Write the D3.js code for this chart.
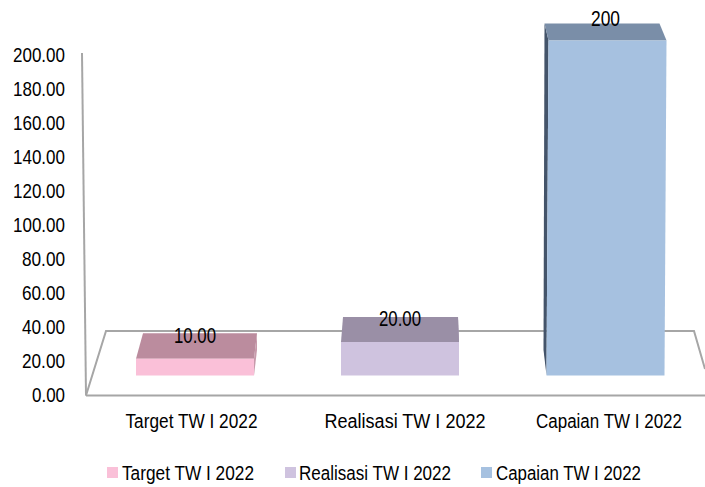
<!DOCTYPE html>
<html><head><meta charset="utf-8">
<script src="https://cdn.jsdelivr.net/npm/d3@7"></script>
<style>html,body{margin:0;padding:0;background:#fff}svg{display:block}text{font-family:"Liberation Sans",Arial,sans-serif;fill:#000}</style>
</head><body><svg id="c" width="705" height="487"></svg>
<script>
const categories = ["Target TW I 2022","Realisasi TW I 2022","Capaian TW I 2022"];
const values = [10,20,200];
const valueLabels = ["10.00","20.00","200"];
const colors = ["#fac0d8","#cfc3df","#a6c1e0"];
const topColors = ["#bb8c9e","#9a8fa6","#7a8ea8"];
const sideColors = ["#c79aab","#a79bb4","#44546a"];
const ticks = d3.range(0,201,20);

const svg = d3.select("#c");
const y = d3.scaleLinear().domain([0,200]).range([395,55]);
const yBar = d3.scaleLinear().domain([0,200]).range([375.5,40.5]);
const center = {[categories[0]]:195,[categories[1]]:400,[categories[2]]:605.5};
const barW = 118;

const wall = "#a6a6a6";
const line = d3.line();
const frame = [[[82,53],[86,395.5]],[[86,395.5],[705,395.5]],[[86,395.5],[106,331],[694,331],[705,369]]];
svg.append("g").selectAll("path").data(frame).join("path")
  .attr("d",d=>line(d)).attr("fill","none").attr("stroke",wall).attr("stroke-width",2);

const ax = d3.axisLeft(y).tickValues(ticks).tickSize(0).tickFormat(d3.format(".2f"));
const gy = svg.append("g").attr("transform","translate(70,-1)").call(ax);
gy.select(".domain").remove();
gy.selectAll("text").attr("font-size",20).attr("dy","0.36em").attr("x",-5).attr("font-family",'"Liberation Sans"')
  .attr("textLength",d=>d>=100?52:d>0?43:33).attr("lengthAdjust","spacingAndGlyphs");

const skew = [[7,3],[2,-1],[-2,-5]];
const depth = [25.5,25,17];
const lean = [0,0,2];
const bars = svg.append("g").selectAll("g").data(categories).join("g");
bars.each(function(c,i){
  const g = d3.select(this), cx = center[c];
  const l = cx-barW/2, r = cx+barW/2, b = yBar(0), t = yBar(values[i]);
  const tb = t-depth[i];
  const [dl,dr] = skew[i];
  if(i===2){
    g.append("path").attr("fill",sideColors[i]).attr("d",line([[l+dl,tb],[l+lean[i],t],[l,b],[l-3,350]])+"Z");
  } else {
    g.append("path").attr("fill",sideColors[i]).attr("d",line([[r+dr,tb],[r,t],[r,b],[r+dr,350]])+"Z");
  }
  g.append("path").attr("fill",topColors[i]).attr("d",line([[l+dl,tb],[r+dr,tb],[r+lean[i],t],[l+lean[i],t]])+"Z");
  g.append("path").attr("fill",colors[i]).attr("d",line([[l+lean[i],t],[r+lean[i],t],[r,b],[l,b]])+"Z");
});

const labelOffset = [16,16,15];
svg.append("g").selectAll("text").data(categories).join("text")
  .attr("x",c=>center[c]).attr("y",(c,i)=>yBar(values[i])-labelOffset[i])
  .attr("text-anchor","middle").attr("font-size",22)
  .attr("textLength",(c,i)=>i===2?29:42).attr("lengthAdjust","spacingAndGlyphs")
  .text((c,i)=>valueLabels[i]);

svg.append("g").selectAll("text").data(categories).join("text")
  .attr("x",(c,i)=>[191.5,405,609][i]).attr("y",428).attr("text-anchor","middle").attr("font-size",20)
  .attr("textLength",(c,i)=>[132,161,146][i]).attr("lengthAdjust","spacingAndGlyphs").text(c=>c);

const lx = [107,285,481], tx=[122,299,496];
const lg = svg.append("g").selectAll("g").data(categories).join("g");
lg.append("rect").attr("x",(c,i)=>lx[i]).attr("y",467).attr("width",11).attr("height",11).attr("fill",(c,i)=>colors[i]);
lg.append("text").attr("x",(c,i)=>tx[i]).attr("y",480).attr("font-size",20)
  .attr("textLength",(c,i)=>[132,152,145][i]).attr("lengthAdjust","spacingAndGlyphs").text(c=>c);
</script></body></html>
